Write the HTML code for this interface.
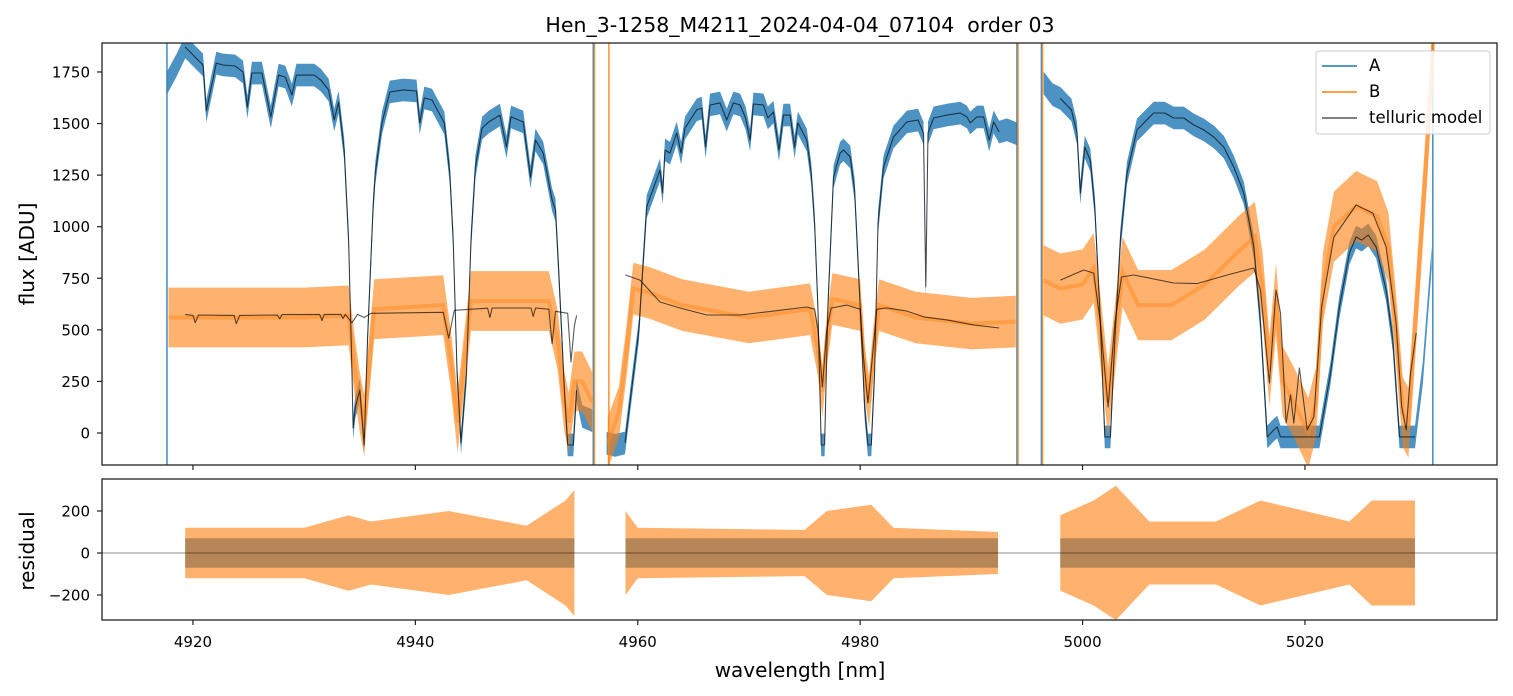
<!DOCTYPE html>
<html><head><meta charset="utf-8">
<style>
html,body{margin:0;padding:0;background:#fff;}
svg{display:block;font-family:"DejaVu Sans","Liberation Sans",sans-serif;}
</style></head>
<body>
<svg id="chart" width="1513" height="696" viewBox="0 0 1513 696" xmlns="http://www.w3.org/2000/svg">
<defs>
<clipPath id="clipTop"><rect x="102" y="43" width="1395" height="422"/></clipPath>
<clipPath id="clipBot"><rect x="102" y="479" width="1395" height="141"/></clipPath>
</defs>
<text x="800" y="32" text-anchor="middle" font-size="20.5" fill="#000" xml:space="preserve">Hen_3-1258_M4211_2024-04-04_07104  order 03</text>
<g id="topMarks" clip-path="url(#clipTop)"></g>
<g id="botMarks" clip-path="url(#clipBot)"></g>
<rect x="102" y="43" width="1395" height="422" fill="none" stroke="#222" stroke-width="1.3"/>
<rect x="102" y="479" width="1395" height="141" fill="none" stroke="#222" stroke-width="1.3"/>
<g id="axes"></g>
<text transform="translate(34,254) rotate(-90)" text-anchor="middle" font-size="20">flux [ADU]</text>
<text transform="translate(34,551) rotate(-90)" text-anchor="middle" font-size="20">residual</text>
<text x="800" y="677" text-anchor="middle" font-size="20">wavelength [nm]</text>
<g>
<rect x="1316" y="51" width="174" height="83" rx="3" fill="#fff" fill-opacity="0.85" stroke="#ccc"/>
<line x1="1322" y1="66" x2="1357" y2="66" stroke="#1f77b4" stroke-width="1.6"/>
<text x="1369" y="71" font-size="16.5">A</text>
<line x1="1322" y1="92" x2="1357" y2="92" stroke="#ff7f0e" stroke-width="1.6"/>
<text x="1369" y="97" font-size="16.5">B</text>
<line x1="1322" y1="118" x2="1357" y2="118" stroke="#555" stroke-width="1.6"/>
<text x="1369" y="123" font-size="16.5">telluric model</text>
</g>
</svg>
<script>
// ---- data (wavelength nm, value) ----
const xTicks = [4920, 4940, 4960, 4980, 5000, 5020];
const yTicks = [0, 250, 500, 750, 1000, 1250, 1500, 1750];
const rTicks = [-200, 0, 200];

const modelA1 = [[4919.3,1871],[4920.9,1784],[4921.2,1561],[4922.1,1793],[4922.7,1784],[4923.8,1779],[4924.5,1750],[4924.9,1580],[4925.3,1745],[4926.2,1745],[4927.0,1532],[4927.7,1735],[4928.3,1725],[4928.9,1638],[4929.3,1735],[4930.9,1735],[4931.5,1711],[4932.2,1663],[4932.7,1517],[4933.1,1604],[4933.6,1372],[4934.0,935],[4934.3,290],[4934.4,24],[4934.6,126],[4935.0,208],[4935.4,-58],[4935.7,451],[4936.2,1095],[4936.4,1260],[4937.0,1503],[4937.7,1653],[4938.9,1663],[4940.1,1658],[4940.4,1503],[4940.8,1624],[4941.5,1614],[4942.6,1503],[4943.1,1260],[4943.4,935],[4943.75,290],[4944.1,-48],[4944.6,290],[4945.0,935],[4945.4,1290],[4946.0,1478],[4946.6,1508],[4947.6,1541],[4948.2,1386],[4948.6,1532],[4949.7,1508],[4950.35,1241],[4950.8,1420],[4951.5,1357],[4952.3,1130],[4952.6,1081],[4952.9,776],[4953.4,208],[4953.7,-58],[4954.2,-58],[4954.5,208]];
const modelA2 = [[4958.85,-48],[4960.1,500],[4960.8,1097],[4962.0,1275],[4962.24,1163],[4962.45,1372],[4962.9,1357],[4963.5,1454],[4963.9,1357],[4964.25,1478],[4965.3,1566],[4965.75,1575],[4966.1,1386],[4966.5,1590],[4967.4,1600],[4968.0,1517],[4968.6,1600],[4969.2,1590],[4969.7,1527],[4970.1,1420],[4970.4,1595],[4971.3,1590],[4971.7,1527],[4972.2,1556],[4972.7,1372],[4973.1,1541],[4973.7,1541],[4974.1,1386],[4974.4,1503],[4975.2,1420],[4975.6,1260],[4975.9,1018],[4976.2,611],[4976.5,-58],[4976.8,-58],[4977.1,611],[4977.6,1241],[4978.2,1357],[4978.5,1372],[4979.1,1338],[4979.5,1178],[4980.0,611],[4980.4,126],[4980.7,-58],[4981.0,-58],[4981.3,291],[4981.6,1018],[4982.1,1289],[4983.0,1435],[4984.2,1508],[4985.2,1517],[4985.7,1454],[4985.9,708],[4986.1,1454],[4986.6,1527],[4987.8,1541],[4989.0,1551],[4989.6,1532],[4989.9,1503],[4990.5,1532],[4991.1,1532],[4991.6,1420],[4992.0,1508],[4992.5,1459]];
const modelA3 = [[4998.0,1622],[4999.0,1566],[4999.5,1454],[4999.8,1163],[5000.2,1386],[5000.7,1323],[5001.1,1096],[5001.6,533],[5002.0,-19],[5002.5,-19],[5002.9,451],[5003.4,935],[5004.0,1260],[5004.9,1469],[5006.4,1551],[5007.4,1551],[5008.2,1527],[5009.1,1527],[5010.0,1493],[5010.9,1469],[5011.8,1435],[5012.7,1386],[5013.6,1289],[5014.5,1163],[5015.4,902],[5016.0,533],[5016.6,-19],[5017.2,15],[5017.5,29],[5017.8,-19],[5021.3,-19],[5022.3,291],[5023.1,611],[5024.0,872],[5024.6,950],[5025.1,935],[5025.7,960],[5026.4,902],[5027.3,693],[5027.9,451],[5028.5,-19],[5029.9,-19]];
const dataA1 = [[4917.7,1700],[4918.5,1780]].concat(modelA1).concat([[4955.0,80],[4955.9,60]]);
const dataA2 = [[4957.2,-50],[4958.0,-60]].concat(modelA2).concat([[4993.2,1470],[4994.1,1450]]);
const dataA3 = [[4996.5,1697],[4997.3,1640]].concat(modelA3).concat([[5030.6,291],[5031.4,853]]);

const modelB1 = [[4919.3,575],[4920.0,570],[4920.2,535],[4920.5,572],[4923.7,570],[4923.9,530],[4924.2,570],[4927.6,572],[4927.8,553],[4928.0,574],[4931.4,575],[4931.6,545],[4931.8,575],[4933.3,575],[4933.5,555],[4933.7,575],[4934.3,534],[4934.8,575],[4935.4,560],[4936.0,580],[4942.5,585],[4943.0,460],[4943.5,595],[4946.5,605],[4946.7,560],[4946.9,606],[4950.4,606],[4950.6,565],[4950.8,606],[4952.0,600],[4952.3,433],[4952.6,590],[4953.7,580],[4954.0,344],[4954.3,520],[4954.5,570]];
const modelB2 = [[4958.9,766],[4960.2,741],[4962.0,635],[4963.8,606],[4966.2,572],[4969.2,572],[4972.2,591],[4975.2,611],[4975.9,600],[4976.2,500],[4976.6,223],[4977.0,500],[4977.4,606],[4978.8,620],[4980.0,600],[4980.3,368],[4980.7,145],[4981.1,368],[4981.5,600],[4982.4,606],[4984.2,591],[4985.8,562],[4987.8,548],[4990.2,524],[4992.5,509]];
const modelB3 = [[4998.0,741],[5000.1,790],[5001.0,775],[5001.6,533],[5002.3,126],[5002.9,533],[5003.5,756],[5004.6,766],[5008.2,727],[5010.3,724],[5013.0,766],[5015.4,800],[5016.0,693],[5016.8,242],[5017.4,693],[5017.8,582],[5018.3,48],[5018.7,184],[5019.0,48],[5019.5,315],[5020.2,15],[5020.8,78],[5021.5,611],[5022.6,950],[5024.6,1105],[5026.1,1066],[5027.3,902],[5028.2,533],[5028.7,126],[5029.1,15],[5029.5,291],[5030.0,485]];

const dataB1 = [[4917.8,560],[4930,560],[4934,570],[4934.6,300],[4935.0,150],[4935.4,40],[4935.8,300],[4936.3,600],[4942.5,620],[4943.2,350],[4943.8,50],[4944.3,300],[4945,640],[4952,640],[4952.8,450],[4953.4,150],[4953.8,50],[4954.3,250],[4955,250],[4955.9,150]];
const dataB2 = [[4957.3,-50],[4958.3,100],[4959,400],[4959.6,700],[4961,680],[4964,620],[4970,560],[4975.5,600],[4976.2,400],[4976.6,200],[4977,450],[4977.5,650],[4980,620],[4980.4,300],[4980.8,150],[4981.2,400],[4981.7,620],[4985,560],[4990,530],[4994,540]];
const dataB3 = [[4996.5,740],[4998,700],[5000,720],[5001,800],[5001.6,500],[5002.3,150],[5003,500],[5003.6,780],[5005,620],[5008,620],[5011,720],[5014,880],[5015.5,950],[5016.2,700],[5016.8,300],[5017.4,650],[5018,250],[5019,150],[5020.3,0],[5021,150],[5021.6,700],[5022.6,1000],[5024.6,1100],[5026.5,1050],[5027.5,900],[5028.2,500],[5028.8,100],[5029.3,50],[5030,600],[5031,1400],[5031.6,1950]];
const noiseA = 55;
const noiseB = [145, 125, 170];

const resA = [[[4919.3,70],[4954.3,70]],[[4958.9,70],[4992.4,70]],[[4998,70],[5029.9,70]]];
const resB = [
 [[4919.3,120],[4930,120],[4934,180],[4936,150],[4943,200],[4945,180],[4950,130],[4953.5,250],[4954.3,300]],
 [[4958.9,200],[4960,120],[4975,110],[4977,200],[4981,230],[4983,120],[4992.4,100]],
 [[4998,180],[5001,250],[5003,320],[5006,150],[5012,150],[5016,250],[5020,200],[5024,150],[5026,250],[5029.9,250]]
];
const spikesA = [4917.66, 4956.0, 4994.1, 4996.3, 5031.5];
const spikesB = [4956.1, 4957.4, 4994.2, 4996.4];

// ---- axes ----
const X0=4911.82, PX=11.12;
function xs(w){return 102+(w-X0)*PX;}
function ys(f){return 433-f*0.2063;}
function yr(r){return 553-r*0.21;}
const NS='http://www.w3.org/2000/svg';
function mk(tag,attrs,parent){const e=document.createElementNS(NS,tag);for(const k in attrs)e.setAttribute(k,attrs[k]);parent.appendChild(e);return e;}
const topG=document.getElementById('topMarks'), botG=document.getElementById('botMarks'), axG=document.getElementById('axes');

function linePts(arr,fy){return arr.map(p=>xs(p[0]).toFixed(1)+','+fy(p[1]).toFixed(1)).join(' ');}
function bandPts(arr,hw,fy){
  const up=arr.map(p=>xs(p[0]).toFixed(1)+','+fy(p[1]+hw).toFixed(1));
  const dn=arr.slice().reverse().map(p=>xs(p[0]).toFixed(1)+','+fy(p[1]-hw).toFixed(1));
  return up.concat(dn).join(' ');
}

[dataA1,dataA2,dataA3].forEach((d,i)=>{
  const b=mk('polygon',{points:bandPts(d,noiseA,ys),fill:'#1f77b4','fill-opacity':0.8},topG);
  
  
});
spikesA.forEach(w=>{
  const l=mk('line',{x1:xs(w),x2:xs(w),y1:43,y2:465,stroke:'#1f77b4','stroke-width':1.5,'stroke-opacity':0.85},topG);
  
  
});
[dataB1,dataB2,dataB3].forEach((d,i)=>{
  const b=mk('polygon',{points:bandPts(d,noiseB[i],ys),fill:'#ff7f0e','fill-opacity':0.6},topG);
  
  
  const l=mk('polyline',{points:linePts(d,ys),fill:'none',stroke:'#ff8a20','stroke-width':4,'stroke-opacity':0.5},topG);
  
  
});
spikesB.forEach(w=>{
  const l=mk('line',{x1:xs(w),x2:xs(w),y1:43,y2:465,stroke:'#ff7f0e','stroke-width':1.5,'stroke-opacity':0.85},topG);
  
  
});
[modelA1,modelA2,modelA3,modelB1,modelB2,modelB3].forEach((d,i)=>{
  const l=mk('polyline',{points:linePts(d,ys),fill:'none',stroke:'#000','stroke-opacity':0.65,'stroke-width':1.1,'stroke-linejoin':'round'},topG);
  
  
});

function resBand(arr){
  const up=arr.map(p=>xs(p[0]).toFixed(1)+','+yr(p[1]).toFixed(1));
  const dn=arr.slice().reverse().map(p=>xs(p[0]).toFixed(1)+','+yr(-p[1]).toFixed(1));
  return up.concat(dn).join(' ');
}
resA.forEach((d,i)=>{
  const b=mk('polygon',{points:resBand(d),fill:'#1f77b4','fill-opacity':0.8},botG);
  
  
});
resB.forEach((d,i)=>{
  const b=mk('polygon',{points:resBand(d),fill:'#ff7f0e','fill-opacity':0.6},botG);
  
  
});
const zl=mk('line',{x1:102,x2:1497,y1:yr(0),y2:yr(0),stroke:'#000','stroke-opacity':0.6,'stroke-width':0.8},botG);



xTicks.forEach(t=>{
  const x=xs(t);
  const a=mk('line',{x1:x,x2:x,y1:465,y2:470,stroke:'#222','stroke-width':1.2},axG);
  
  
  const b=mk('line',{x1:x,x2:x,y1:620,y2:625,stroke:'#222','stroke-width':1.2},axG);
  
  
  const tx=mk('text',{x:x,y:647,'text-anchor':'middle','font-size':15},axG);
  tx.textContent=t;
  
  
});
yTicks.forEach(t=>{
  const y=ys(t);
  const a=mk('line',{x1:97,x2:102,y1:y,y2:y,stroke:'#222','stroke-width':1.2},axG);
  
  
  const tx=mk('text',{x:90,y:y+5.5,'text-anchor':'end','font-size':15},axG);
  tx.textContent=t;
  
  
});
rTicks.forEach(t=>{
  const y=yr(t);
  const a=mk('line',{x1:97,x2:102,y1:y,y2:y,stroke:'#222','stroke-width':1.2},axG);
  
  
  const tx=mk('text',{x:90,y:y+5.5,'text-anchor':'end','font-size':15},axG);
  tx.textContent=t===0?'0':(t<0?'\u2212'+(-t):t);
  
  
});
</script>
</body></html>
